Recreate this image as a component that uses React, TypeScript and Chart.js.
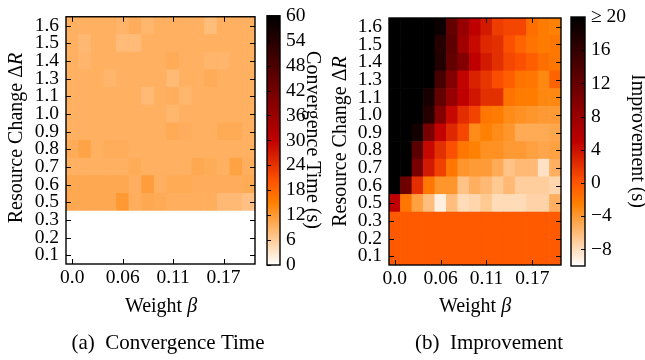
import React, { useEffect, useRef } from 'react';
import { Chart, registerables } from 'chart.js';

Chart.register(...registerables);

const FONT = '"Liberation Serif", "Times New Roman", serif';
Chart.defaults.font.family = FONT;
Chart.defaults.color = '#000';

const W = 645;
const H = 360;

// ---------- data ----------
// Weight beta (15 columns)
const betaLabels = ['0.0', '0.01', '0.03', '0.04', '0.06', '0.07', '0.09', '0.1', '0.11', '0.13', '0.14', '0.16', '0.17', '0.19', '0.2'];
const xTickIndices = [0, 4, 8, 12];
// Resource change ΔR (bottom to top)
const deltaRLabels = ['0.1', '0.2', '0.3', '0.5', '0.6', '0.7', '0.8', '0.9', '1.0', '1.1', '1.3', '1.4', '1.5', '1.6'];

// Convergence time (s), one array per ΔR row
const conv_1_6 = [9.3, 9.3, 9.3, 9.3, 8.8, 9.6, 8.6, 9.3, 9.3, 9.3, 9.3, 7.8, 9.3, 9.3, 9.3];
const conv_1_5 = [9.3, 8.3, 9.3, 9.3, 8.0, 8.0, 9.3, 9.3, 9.3, 9.3, 9.3, 9.3, 9.3, 9.3, 9.3];
const conv_1_4 = [9.3, 8.7, 9.3, 9.3, 9.3, 9.3, 9.3, 9.3, 9.9, 9.3, 9.3, 8.7, 8.7, 9.3, 9.3];
const conv_1_3 = [9.3, 9.3, 9.3, 8.7, 9.3, 9.3, 9.3, 9.3, 8.1, 9.3, 9.3, 9.9, 9.3, 9.3, 9.3];
const conv_1_1 = [9.3, 9.3, 9.3, 9.3, 9.3, 9.3, 8.1, 9.3, 9.5, 8.6, 9.3, 9.3, 9.3, 9.3, 9.3];
const conv_1_0 = [9.3, 9.3, 9.3, 9.3, 9.3, 9.3, 9.3, 9.3, 8.6, 9.3, 9.3, 9.3, 9.3, 9.3, 9.3];
const conv_0_9 = [9.3, 9.3, 9.3, 9.3, 9.3, 9.3, 9.3, 9.3, 10.0, 9.6, 9.3, 9.3, 10.0, 10.0, 9.3];
const conv_0_8 = [9.8, 10.8, 9.3, 9.7, 9.7, 9.3, 9.3, 9.3, 9.3, 9.3, 9.3, 9.3, 9.3, 9.3, 9.3];
const conv_0_7 = [9.3, 9.3, 9.3, 9.3, 9.3, 9.8, 9.3, 9.3, 9.3, 9.3, 10.2, 9.8, 9.3, 11.0, 9.5];
const conv_0_6 = [10.2, 10.2, 10.2, 10.2, 10.2, 9.4, 11.5, 9.4, 10.0, 10.0, 9.6, 9.6, 9.6, 9.6, 10.0];
const conv_0_5 = [10.2, 10.2, 10.2, 10.2, 12.0, 9.5, 10.2, 10.0, 9.5, 9.5, 9.5, 9.5, 8.2, 8.2, 7.3];
const conv_0_3 = [0, 0, 0, 0, 0, 0, 0, 0, 0, 0, 0, 0, 0, 0, 0];
const conv_0_2 = [0, 0, 0, 0, 0, 0, 0, 0, 0, 0, 0, 0, 0, 0, 0];
const conv_0_1 = [0, 0, 0, 0, 0, 0, 0, 0, 0, 0, 0, 0, 0, 0, 0];
const convRows = [conv_0_1, conv_0_2, conv_0_3, conv_0_5, conv_0_6, conv_0_7, conv_0_8, conv_0_9, conv_1_0, conv_1_1, conv_1_3, conv_1_4, conv_1_5, conv_1_6];

// Improvement (s), one array per ΔR row (values >= 20 are saturated)
const imp_1_6 = [20, 20, 20, 20, 19, 12.2, 8.2, 5, 3.5, 1.4, 0.9, 0.9, -1.5, -2.3, -2.6];
const imp_1_5 = [20, 20, 20, 20, 17, 12.7, 7.4, 4.4, 2.6, 2.2, 0.3, -0.9, -1.8, -2.3, -2];
const imp_1_4 = [20, 20, 20, 20, 17.3, 12.2, 9.8, 5, 3.5, 2.2, 0.8, 0.3, -0.5, -1.5, -2];
const imp_1_3 = [20, 20, 20, 20, 14.5, 9.8, 4.8, 3, 1.8, 0.5, -0.5, -1.8, -2, -3, -0.8];
const imp_1_1 = [20, 20, 20, 18, 12.2, 8.2, 5, 3.7, 2.2, 2.2, -1.8, -2.3, -2.3, -3, -3];
const imp_1_0 = [20, 20, 20, 17, 9.8, 4.5, 2.3, 1, -2, -2.3, -3.2, -3.5, -3.8, -4, -4];
const imp_0_9 = [20, 20, 18.5, 10.6, 4.8, 2.6, 0.8, -3.2, -2.6, -3.2, -3.8, -5, -5, -5, -4.7];
const imp_0_8 = [20, 20, 12.9, 4.5, 2.2, 0.3, -2, -2.6, -3.5, -3.5, -4, -4, -4.4, -4.7, -4.4];
const imp_0_7 = [20, 20, 10.6, 3.5, 1.2, -2, -3.8, -4.1, -4.1, -5, -6.5, -5.9, -5.9, -8.2, -5.3];
const imp_0_6 = [20, 11.4, 2.3, -2, -3.8, -3.8, -6.5, -5.3, -5.9, -6.8, -5.9, -7.1, -7.1, -7.1, -7.6];
const imp_0_5 = [5, -2, -4.4, -6.2, -9.1, -6.2, -7.9, -7.6, -6.8, -7.9, -7.9, -7.9, -7.4, -7.4, -5.3];
const imp_0_3 = [-0.3, -0.3, -0.3, -0.3, -0.3, -0.3, -0.3, -0.3, -0.3, -0.3, -0.3, -0.3, -0.3, -0.3, -0.3];
const imp_0_2 = [-0.3, -0.3, -0.3, -0.3, -0.3, -0.3, -0.3, -0.3, -0.3, -0.3, -0.3, -0.3, -0.3, -0.3, -0.3];
const imp_0_1 = [-0.3, -0.3, -0.3, -0.3, -0.3, -0.3, -0.3, -0.3, -0.3, -0.3, -0.3, -0.3, -0.3, -0.3, -0.3];
const impRows = [imp_0_1, imp_0_2, imp_0_3, imp_0_5, imp_0_6, imp_0_7, imp_0_8, imp_0_9, imp_1_0, imp_1_1, imp_1_3, imp_1_4, imp_1_5, imp_1_6];

// colour bar ranges and ticks
const convRange = [0, 60];
const convTicks = [0, 6, 12, 18, 24, 30, 36, 42, 48, 54, 60];
const impRange = [-10, 20];
const impTicks = [-8, -4, 0, 4, 8, 12, 16, 20];

// ---------- helpers ----------
function gistHeatR(t: number): string {
  const tt = Math.min(1, Math.max(0, t));
  const x = 1 - tt;
  const r = Math.min(1, Math.max(0, 1.5 * x));
  const g = Math.min(1, Math.max(0, 2 * x - 1));
  const b = Math.min(1, Math.max(0, 4 * x - 3));
  return `rgb(${Math.round(r * 255)},${Math.round(g * 255)},${Math.round(b * 255)})`;
}

type Part = { t: string; italic?: boolean };
type TextItem = { parts: Part[]; x: number; y: number; rot: number; size: number };

function drawRich(ctx: CanvasRenderingContext2D, item: TextItem) {
  ctx.save();
  ctx.translate(item.x, item.y);
  ctx.rotate(item.rot);
  ctx.fillStyle = '#000';
  ctx.textBaseline = 'alphabetic';
  ctx.textAlign = 'left';
  let total = 0;
  const widths = item.parts.map((p) => {
    ctx.font = `${p.italic ? 'italic ' : ''}${item.size}px ${FONT}`;
    const w = ctx.measureText(p.t).width;
    total += w;
    return w;
  });
  let cx = -total / 2;
  item.parts.forEach((p, i) => {
    ctx.font = `${p.italic ? 'italic ' : ''}${item.size}px ${FONT}`;
    ctx.fillText(p.t, cx, 0);
    cx += widths[i];
  });
  ctx.restore();
}

type Area = { l: number; t: number; r: number; b: number };

const TICK_FONT = 19.5;

function heatmapConfig(rows: number[][], range: number[], area: Area, texts: TextItem[]): any {
  const [vmin, vmax] = range;
  const datasets = rows.map((row, r) => ({
    data: betaLabels.map(() => [r - 0.5, r + 0.5]),
    backgroundColor: row.map((v) => gistHeatR((v - vmin) / (vmax - vmin))),
    borderWidth: 0,
    grouped: false,
    barPercentage: 1,
    categoryPercentage: 1,
  }));
  const decor = {
    id: 'heatDecor',
    afterDraw(chart: any) {
      const ctx = chart.ctx as CanvasRenderingContext2D;
      const a = chart.chartArea;
      const xs = chart.scales.x;
      const ys = chart.scales.y;
      ctx.save();
      ctx.strokeStyle = '#000';
      ctx.lineWidth = 1;
      const TL = 5;
      xTickIndices.forEach((i) => {
        const px = Math.round(xs.getPixelForValue(i)) + 0.5;
        ctx.beginPath();
        ctx.moveTo(px, a.bottom);
        ctx.lineTo(px, a.bottom - TL);
        ctx.moveTo(px, a.top);
        ctx.lineTo(px, a.top + TL);
        ctx.stroke();
      });
      deltaRLabels.forEach((_, i) => {
        const py = Math.round(ys.getPixelForValue(i)) + 0.5;
        ctx.beginPath();
        ctx.moveTo(a.left, py);
        ctx.lineTo(a.left + TL, py);
        ctx.moveTo(a.right, py);
        ctx.lineTo(a.right - TL, py);
        ctx.stroke();
      });
      ctx.lineWidth = 1.4;
      ctx.strokeRect(a.left, a.top, a.right - a.left, a.bottom - a.top);
      ctx.restore();
      texts.forEach((t) => drawRich(ctx, t));
    },
  };
  return {
    type: 'bar',
    data: { labels: betaLabels, datasets },
    options: {
      animation: false,
      responsive: false,
      maintainAspectRatio: false,
      events: [],
      layout: { padding: { left: 0, top: area.t, right: W - area.r, bottom: 0 } },
      plugins: { legend: { display: false }, tooltip: { enabled: false }, title: { display: false } },
      scales: {
        x: {
          type: 'category',
          offset: true,
          grid: { display: false, drawTicks: false },
          border: { display: false },
          ticks: {
            autoSkip: false,
            maxRotation: 0,
            minRotation: 0,
            padding: 4,
            font: { size: TICK_FONT, lineHeight: 1 },
            callback: (_v: any, i: number) => (xTickIndices.includes(i) ? betaLabels[i] : ''),
          },
          afterFit: (s: any) => {
            s.height = H - area.b;
          },
        },
        y: {
          type: 'linear',
          min: -0.5,
          max: rows.length - 0.5,
          grid: { display: false, drawTicks: false },
          border: { display: false },
          afterBuildTicks: (s: any) => {
            s.ticks = deltaRLabels.map((_, i) => ({ value: i }));
          },
          ticks: {
            autoSkip: false,
            padding: 7,
            font: { size: TICK_FONT, lineHeight: 1 },
            callback: (v: any) => deltaRLabels[v] ?? '',
          },
          afterFit: (s: any) => {
            s.width = area.l;
          },
        },
      },
    },
    plugins: [decor],
  };
}

function colorbarConfig(range: number[], ticks: number[], area: Area, tickSide: 'left' | 'right', fmt: (v: number) => string): any {
  const [vmin, vmax] = range;
  const axisW = 50;
  const decor = {
    id: 'cbDecor',
    afterDraw(chart: any) {
      const ctx = chart.ctx as CanvasRenderingContext2D;
      const a = chart.chartArea;
      const ys = chart.scales.y;
      ctx.save();
      ctx.strokeStyle = '#000';
      ctx.lineWidth = 1;
      const TL = 4;
      ticks.forEach((v) => {
        const py = Math.round(ys.getPixelForValue(v)) + 0.5;
        ctx.beginPath();
        if (tickSide === 'right') {
          ctx.moveTo(a.right, py);
          ctx.lineTo(a.right - TL, py);
        } else {
          ctx.moveTo(a.left, py);
          ctx.lineTo(a.left + TL, py);
        }
        ctx.stroke();
      });
      ctx.lineWidth = 1.4;
      ctx.strokeRect(a.left, a.top, a.right - a.left, a.bottom - a.top);
      ctx.restore();
    },
  };
  return {
    type: 'bar',
    data: {
      labels: [''],
      datasets: [
        {
          data: [[vmin, vmax]],
          borderWidth: 0,
          barPercentage: 1,
          categoryPercentage: 1,
          backgroundColor: (c: any) => {
            const ch = c.chart;
            const a = ch.chartArea;
            if (!a) return '#fff';
            const g = ch.ctx.createLinearGradient(0, a.bottom, 0, a.top);
            const N = 60;
            for (let i = 0; i <= N; i++) g.addColorStop(i / N, gistHeatR(i / N));
            return g;
          },
        },
      ],
    },
    options: {
      animation: false,
      responsive: false,
      maintainAspectRatio: false,
      events: [],
      layout: { padding: { left: area.l, top: area.t, right: W - area.r - axisW, bottom: H - area.b } },
      plugins: { legend: { display: false }, tooltip: { enabled: false } },
      scales: {
        x: { display: false },
        y: {
          type: 'linear',
          position: 'right',
          min: vmin,
          max: vmax,
          grid: { display: false, drawTicks: false },
          border: { display: false },
          afterBuildTicks: (s: any) => {
            s.ticks = ticks.map((v) => ({ value: v }));
          },
          ticks: {
            autoSkip: false,
            padding: 6,
            font: { size: TICK_FONT, lineHeight: 1 },
            callback: (v: any) => fmt(Number(v)),
          },
          afterFit: (s: any) => {
            s.width = axisW;
          },
        },
      },
    },
    plugins: [decor],
  };
}

const minus = (v: number) => (v < 0 ? '\u2212' + Math.abs(v) : String(v));

const LEFT_AREA: Area = { l: 66, t: 15, r: 255, b: 264 };
const LEFT_CB: Area = { l: 267, t: 14, r: 280, b: 265 };
const RIGHT_AREA: Area = { l: 389, t: 18, r: 561, b: 265 };
const RIGHT_CB: Area = { l: 571, t: 17, r: 585, b: 266 };

const leftTexts: TextItem[] = [
  { parts: [{ t: 'Resource Change \u0394' }, { t: 'R', italic: true }], x: 21.5, y: 138, rot: -Math.PI / 2, size: 20 },
  { parts: [{ t: 'Weight ' }, { t: '\u03b2', italic: true }], x: 161, y: 312, rot: 0, size: 20 },
  { parts: [{ t: '(a)  Convergence Time' }], x: 168, y: 349, rot: 0, size: 21 },
  { parts: [{ t: 'Convergence Time (s)' }], x: 307, y: 140, rot: Math.PI / 2, size: 20 },
];
const rightTexts: TextItem[] = [
  { parts: [{ t: 'Resource Change \u0394' }, { t: 'R', italic: true }], x: 346, y: 141.5, rot: -Math.PI / 2, size: 20 },
  { parts: [{ t: 'Weight ' }, { t: '\u03b2', italic: true }], x: 475, y: 312, rot: 0, size: 20 },
  { parts: [{ t: '(b)  Improvement' }], x: 489, y: 349, rot: 0, size: 21 },
  { parts: [{ t: 'Improvement (s)' }], x: 632, y: 141, rot: Math.PI / 2, size: 20 },
];

function ChartCanvas({ make }: { make: () => any }) {
  const ref = useRef<HTMLCanvasElement>(null);
  useEffect(() => {
    const chart = new Chart(ref.current as HTMLCanvasElement, make());
    return () => chart.destroy();
  }, []);
  return (
    <canvas
      ref={ref}
      width={W}
      height={H}
      style={{ position: 'absolute', left: 0, top: 0, width: W, height: H }}
    />
  );
}

export default function App() {
  return (
    <div style={{ position: 'absolute', left: 0, top: 0, width: W, height: H, background: '#fff', overflow: 'hidden' }}>
      <ChartCanvas make={() => heatmapConfig(convRows, convRange, LEFT_AREA, leftTexts)} />
      <ChartCanvas make={() => colorbarConfig(convRange, convTicks, LEFT_CB, 'left', (v) => String(v))} />
      <ChartCanvas make={() => heatmapConfig(impRows, impRange, RIGHT_AREA, rightTexts)} />
      <ChartCanvas make={() => colorbarConfig(impRange, impTicks, RIGHT_CB, 'right', (v) => (v === 20 ? '\u2265 20' : minus(v)))} />
    </div>
  );
}
